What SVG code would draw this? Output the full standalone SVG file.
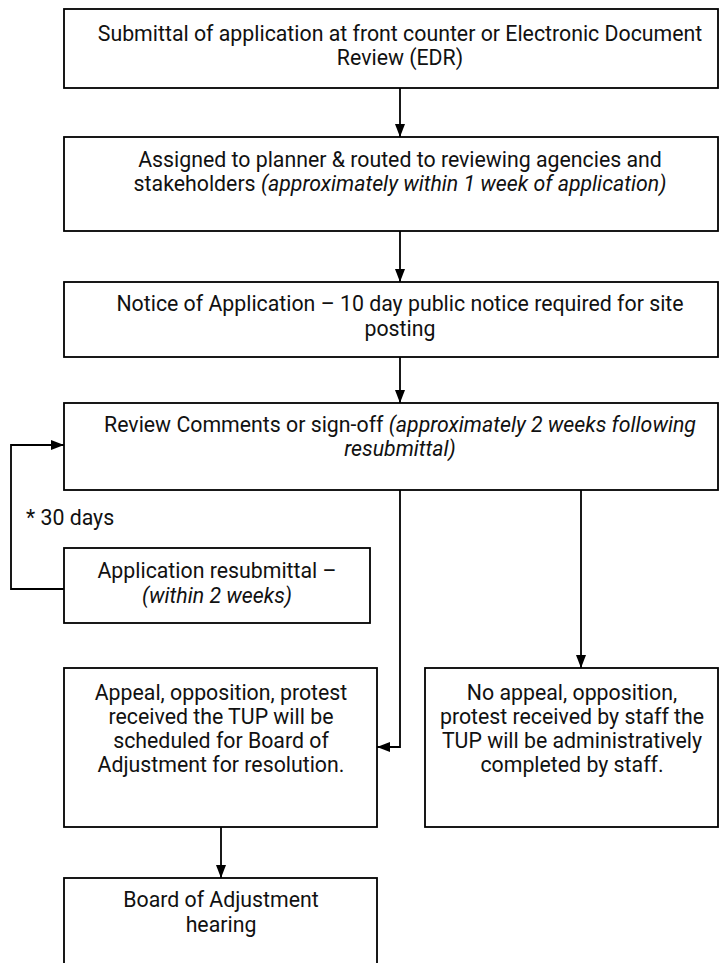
<svg xmlns="http://www.w3.org/2000/svg" width="726" height="963" viewBox="0 0 726 963">
<style>
.box{fill:#fff;stroke:#000;stroke-width:1.8}
.t{font-family:Roboto,"Liberation Sans",sans-serif;font-size:21.3px;fill:#111;text-anchor:middle}
.i{font-style:italic}
.c{fill:none;stroke:#000;stroke-width:1.8}
</style>
<defs>
<marker id="ah" markerWidth="14" markerHeight="10" refX="13" refY="5" orient="auto" markerUnits="userSpaceOnUse">
<path d="M0,0 L13,5 L0,10 z" fill="#000"/>
</marker>
</defs>
<rect width="726" height="963" fill="#fff"/>
<g id="connectors">
<line class="c" x1="400" y1="88" x2="400" y2="137" marker-end="url(#ah)"/>
<line class="c" x1="400" y1="231" x2="400" y2="282" marker-end="url(#ah)"/>
<line class="c" x1="400" y1="357" x2="400" y2="403" marker-end="url(#ah)"/>
<polyline class="c" points="64,589 11,589 11,445 64,445" marker-end="url(#ah)"/>
<polyline class="c" points="400,490 400,747 377,747" marker-end="url(#ah)"/>
<line class="c" x1="581" y1="490" x2="581" y2="668" marker-end="url(#ah)"/>
<line class="c" x1="221" y1="827" x2="221" y2="878" marker-end="url(#ah)"/>
<text class="t" x="26" y="525" style="text-anchor:start">* 30 days</text>
</g>
<g id="n1">
<rect class="box" x="64" y="9" width="654" height="79"/>
<text class="t" x="400" y="41">Submittal of application at front counter or Electronic Document</text>
<text class="t" x="400" y="65">Review (EDR)</text>
</g>
<g id="n2">
<rect class="box" x="64" y="137" width="654" height="94"/>
<text class="t" x="400" y="167">Assigned to planner &amp; routed to reviewing agencies and</text>
<text class="t" x="400" y="191">stakeholders <tspan class="i">(approximately within 1 week of application)</tspan></text>
</g>
<g id="n3">
<rect class="box" x="64" y="282" width="654" height="75"/>
<text class="t" x="400" y="311">Notice of Application – 10 day public notice required for site</text>
<text class="t" x="400" y="336">posting</text>
</g>
<g id="n4">
<rect class="box" x="64" y="403" width="654" height="87"/>
<text class="t" x="400" y="432">Review Comments or sign-off <tspan class="i">(approximately 2 weeks following</tspan></text>
<text class="t i" x="400" y="456">resubmittal)</text>
</g>
<g id="n5">
<rect class="box" x="64" y="548" width="306" height="75"/>
<text class="t" x="217" y="578">Application resubmittal –</text>
<text class="t i" x="217" y="603">(within 2 weeks)</text>
</g>
<g id="n6">
<rect class="box" x="64" y="668" width="313" height="159"/>
<text class="t" x="221" y="700">Appeal, opposition, protest</text>
<text class="t" x="221" y="724">received the TUP will be</text>
<text class="t" x="221" y="748">scheduled for Board of</text>
<text class="t" x="221" y="772">Adjustment for resolution.</text>
</g>
<g id="n7">
<rect class="box" x="425" y="668" width="293" height="159"/>
<text class="t" x="572" y="700">No appeal, opposition,</text>
<text class="t" x="572" y="724">protest received by staff the</text>
<text class="t" x="572" y="748">TUP will be administratively</text>
<text class="t" x="572" y="772">completed by staff.</text>
</g>
<g id="n8">
<rect class="box" x="64" y="878" width="313" height="100"/>
<text class="t" x="221" y="907">Board of Adjustment</text>
<text class="t" x="221" y="932">hearing</text>
</g>
</svg>
